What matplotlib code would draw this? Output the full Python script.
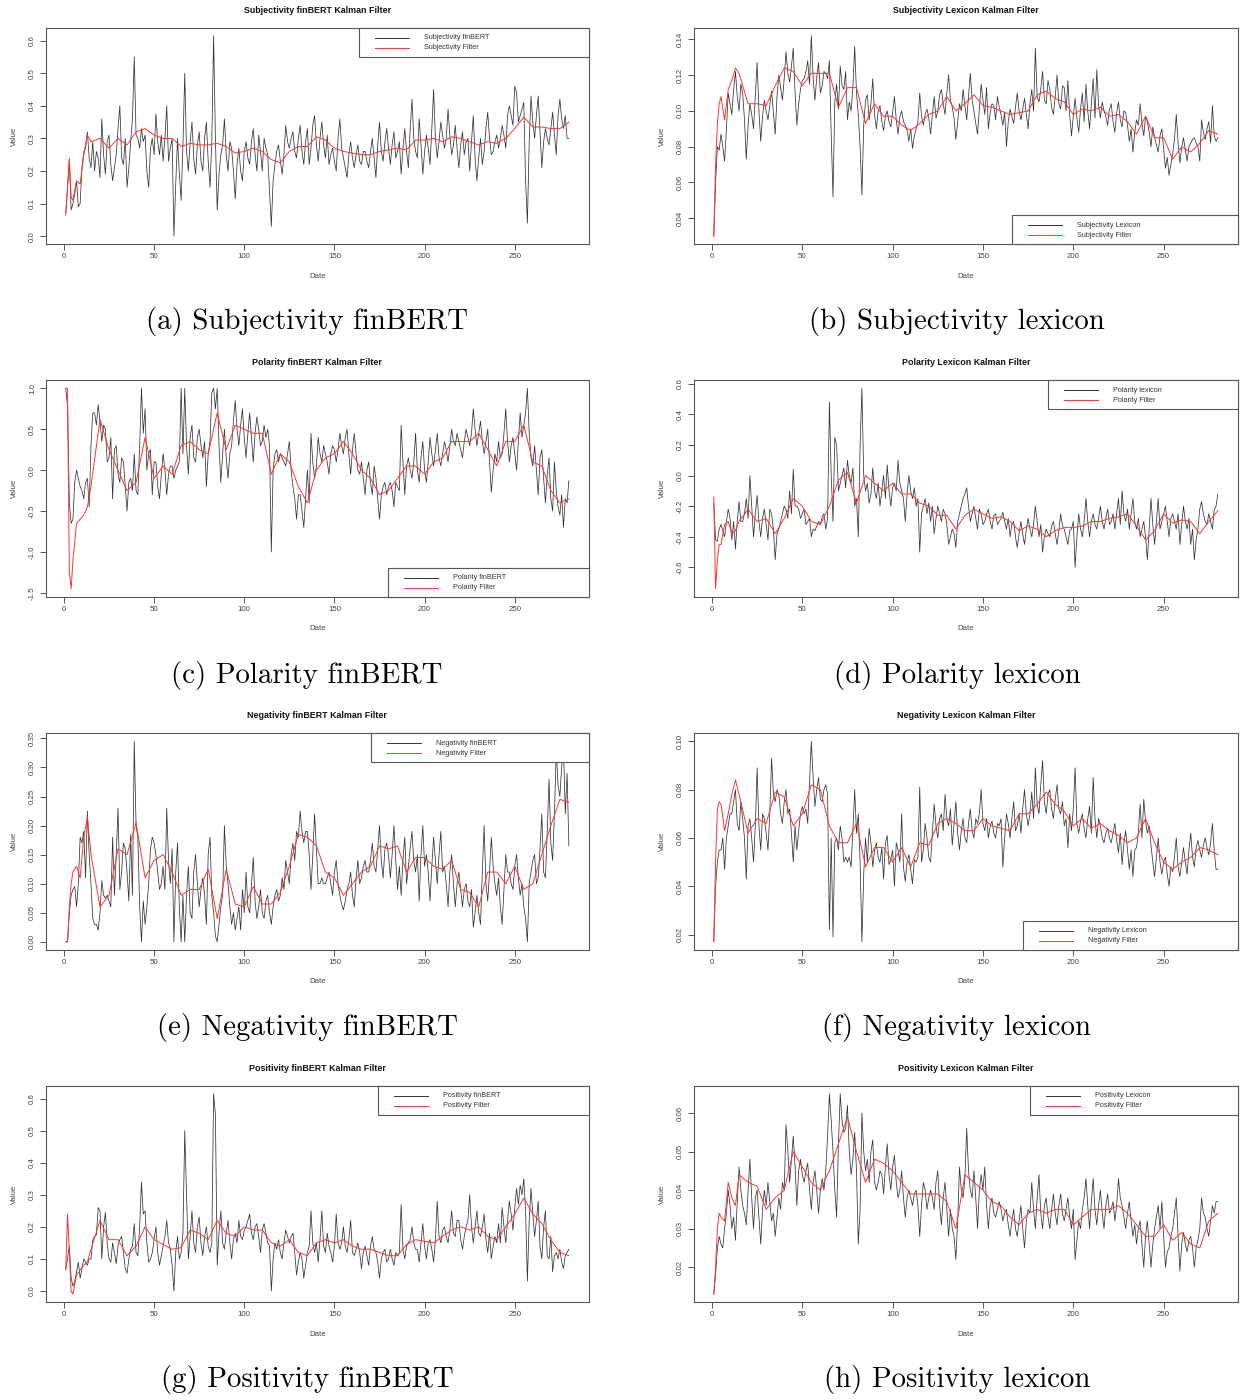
import numpy as np
import matplotlib
matplotlib.use("Agg")
import matplotlib.pyplot as plt
from matplotlib.patches import Rectangle
from matplotlib.lines import Line2D
from matplotlib.ticker import FormatStrFormatter

# ---------------- data ----------------
DAYS = list(range(1, 281))
FDAYS = [1, 2, 3, 4, 5, 7, 9, 11, 13] + list(range(15, 281, 5))
XTICKS = [0, 50, 100, 150, 200, 250]

# raw series: values on odd days (1,3,...,279) and even days (2,4,...,280)
subj_finbert_odd = [
    0.07, 0.23, 0.10, 0.17, 0.10, 0.26, 0.32, 0.21, 0.20, 0.24,
    0.36, 0.19, 0.31, 0.17, 0.25, 0.40, 0.22, 0.15, 0.29, 0.55,
    0.30, 0.33, 0.31, 0.15, 0.30, 0.375, 0.25, 0.23, 0.40, 0.27,
    0.00, 0.30, 0.11, 0.50, 0.20, 0.35, 0.19, 0.32, 0.20, 0.35,
    0.15, 0.615, 0.08, 0.25, 0.36, 0.20, 0.27, 0.115, 0.27, 0.17,
    0.29, 0.22, 0.33, 0.20, 0.26, 0.30, 0.25, 0.03, 0.22, 0.28,
    0.19, 0.34, 0.27, 0.32, 0.24, 0.34, 0.22, 0.33, 0.27, 0.37,
    0.23, 0.35, 0.24, 0.22, 0.27, 0.20, 0.36, 0.24, 0.18, 0.29,
    0.21, 0.28, 0.22, 0.26, 0.21, 0.30, 0.18, 0.35, 0.23, 0.33,
    0.22, 0.32, 0.26, 0.19, 0.33, 0.21, 0.42, 0.26, 0.36, 0.19,
    0.31, 0.22, 0.45, 0.24, 0.35, 0.27, 0.39, 0.25, 0.34, 0.21,
    0.32, 0.29, 0.20, 0.37, 0.17, 0.30, 0.26, 0.38, 0.25, 0.29,
    0.27, 0.34, 0.27, 0.40, 0.34, 0.44, 0.37, 0.41, 0.04, 0.43,
    0.30, 0.43, 0.21, 0.33, 0.28, 0.38, 0.25, 0.42, 0.33, 0.30]
subj_finbert_even = [
    0.15, 0.08, 0.13, 0.09, 0.21, 0.27, 0.24, 0.29, 0.26, 0.18,
    0.25, 0.29, 0.22, 0.21, 0.33, 0.24, 0.30, 0.21, 0.36, 0.31,
    0.27, 0.29, 0.20, 0.27, 0.25, 0.29, 0.31, 0.30, 0.23, 0.30,
    0.16, 0.19, 0.28, 0.26, 0.29, 0.24, 0.28, 0.23, 0.30, 0.23,
    0.29, 0.30, 0.19, 0.28, 0.25, 0.29, 0.20, 0.22, 0.20, 0.26,
    0.24, 0.29, 0.25, 0.31, 0.20, 0.27, 0.14, 0.17, 0.26, 0.23,
    0.25, 0.29, 0.30, 0.26, 0.30, 0.26, 0.29, 0.22, 0.34, 0.28,
    0.30, 0.28, 0.31, 0.25, 0.23, 0.30, 0.27, 0.21, 0.25, 0.24,
    0.25, 0.23, 0.26, 0.23, 0.26, 0.24, 0.28, 0.26, 0.29, 0.27,
    0.28, 0.24, 0.29, 0.27, 0.26, 0.33, 0.30, 0.24, 0.28, 0.26,
    0.27, 0.33, 0.30, 0.29, 0.31, 0.30, 0.31, 0.28, 0.27, 0.28,
    0.25, 0.30, 0.29, 0.24, 0.24, 0.22, 0.33, 0.30, 0.26, 0.31,
    0.30, 0.31, 0.37, 0.37, 0.46, 0.35, 0.39, 0.17, 0.29, 0.35,
    0.37, 0.32, 0.29, 0.30, 0.33, 0.31, 0.37, 0.36, 0.37, 0.30]
subj_finbert_filter = [
    0.065, 0.15, 0.24, 0.12, 0.11, 0.17, 0.16, 0.25, 0.31,
    0.29, 0.30, 0.27, 0.30, 0.28, 0.32, 0.33, 0.31, 0.30, 0.30,
    0.275, 0.285, 0.28, 0.28, 0.285, 0.275, 0.255, 0.26, 0.27, 0.26,
    0.235, 0.225, 0.26, 0.275, 0.275, 0.305, 0.295, 0.27, 0.26, 0.255,
    0.25, 0.25, 0.26, 0.265, 0.27, 0.265, 0.295, 0.295, 0.30, 0.29,
    0.305, 0.30, 0.29, 0.28, 0.29, 0.285, 0.30, 0.33, 0.365, 0.335,
    0.335, 0.33, 0.33, 0.35]

subj_lexicon_odd = [
    0.030, 0.080, 0.087, 0.072, 0.110, 0.098, 0.122, 0.100, 0.110, 0.073,
    0.104, 0.090, 0.127, 0.083, 0.106, 0.095, 0.111, 0.087, 0.120, 0.106,
    0.133, 0.116, 0.135, 0.092, 0.112, 0.118, 0.128, 0.142, 0.106, 0.127,
    0.114, 0.121, 0.128, 0.052, 0.115, 0.125, 0.112, 0.095, 0.100, 0.136,
    0.098, 0.053, 0.106, 0.095, 0.118, 0.090, 0.103, 0.089, 0.100, 0.091,
    0.108, 0.087, 0.100, 0.092, 0.083, 0.079, 0.090, 0.110, 0.092, 0.101,
    0.087, 0.108, 0.100, 0.112, 0.098, 0.120, 0.102, 0.084, 0.104, 0.112,
    0.095, 0.121, 0.100, 0.087, 0.115, 0.098, 0.090, 0.104, 0.095, 0.102,
    0.092, 0.080, 0.101, 0.093, 0.110, 0.095, 0.107, 0.090, 0.112, 0.135,
    0.105, 0.122, 0.104, 0.112, 0.098, 0.120, 0.101, 0.113, 0.117, 0.086,
    0.107, 0.088, 0.110, 0.115, 0.090, 0.118, 0.123, 0.096, 0.100, 0.092,
    0.104, 0.088, 0.105, 0.091, 0.099, 0.083, 0.077, 0.095, 0.104, 0.086,
    0.094, 0.080, 0.085, 0.077, 0.090, 0.068, 0.064, 0.076, 0.098, 0.071,
    0.085, 0.072, 0.082, 0.085, 0.080, 0.095, 0.084, 0.094, 0.103, 0.083]
subj_lexicon_even = [
    0.060, 0.078, 0.080, 0.090, 0.104, 0.112, 0.108, 0.115, 0.095, 0.092,
    0.098, 0.108, 0.100, 0.097, 0.100, 0.103, 0.099, 0.108, 0.113, 0.118,
    0.121, 0.125, 0.110, 0.104, 0.117, 0.122, 0.115, 0.118, 0.119, 0.110,
    0.122, 0.118, 0.087, 0.105, 0.101, 0.114, 0.122, 0.105, 0.113, 0.110,
    0.080, 0.092, 0.109, 0.104, 0.098, 0.100, 0.094, 0.097, 0.094, 0.099,
    0.095, 0.097, 0.094, 0.089, 0.090, 0.086, 0.094, 0.097, 0.098, 0.096,
    0.098, 0.096, 0.109, 0.104, 0.110, 0.106, 0.096, 0.094, 0.100, 0.103,
    0.108, 0.106, 0.093, 0.101, 0.106, 0.113, 0.099, 0.103, 0.108, 0.098,
    0.099, 0.094, 0.097, 0.102, 0.100, 0.101, 0.098, 0.104, 0.100, 0.108,
    0.112, 0.106, 0.117, 0.102, 0.108, 0.104, 0.114, 0.100, 0.098, 0.097,
    0.096, 0.101, 0.094, 0.100, 0.104, 0.096, 0.103, 0.105, 0.097, 0.101,
    0.094, 0.099, 0.095, 0.100, 0.092, 0.090, 0.088, 0.092, 0.093, 0.097,
    0.088, 0.091, 0.081, 0.086, 0.079, 0.074, 0.070, 0.084, 0.082, 0.080,
    0.078, 0.080, 0.084, 0.082, 0.072, 0.088, 0.090, 0.082, 0.086, 0.085]
subj_lexicon_filter = [
    0.030, 0.070, 0.093, 0.104, 0.108, 0.095, 0.112, 0.117, 0.124,
    0.121, 0.104, 0.104, 0.103, 0.114, 0.124, 0.122, 0.114, 0.121, 0.121,
    0.121, 0.102, 0.113, 0.113, 0.093, 0.104, 0.097, 0.097, 0.092, 0.089,
    0.093, 0.098, 0.100, 0.108, 0.100, 0.104, 0.109, 0.103, 0.102, 0.100,
    0.098, 0.099, 0.100, 0.109, 0.111, 0.107, 0.105, 0.098, 0.101, 0.100,
    0.102, 0.097, 0.098, 0.094, 0.087, 0.097, 0.085, 0.085, 0.073, 0.080,
    0.077, 0.082, 0.089, 0.087]

pol_finbert_odd = [
    1.00, -0.40, -0.60, 0.00, -0.20, -0.35, -0.10, 0.30, 0.70, 0.80,
    0.35, 0.50, 0.15, -0.35, 0.30, -0.15, 0.10, -0.50, -0.10, 0.20,
    -0.30, 1.00, 0.75, 0.20, -0.30, 0.10, -0.35, 0.20, -0.30, 0.05,
    -0.10, 0.05, 1.00, 1.00, -0.05, 0.55, 0.10, 0.50, 0.15, -0.20,
    0.35, 1.00, 1.00, -0.15, 0.50, -0.10, 0.30, 0.85, 0.30, 0.75,
    0.15, 0.70, 0.10, 0.65, 0.30, 0.55, 0.50, -1.00, 0.20, 0.10,
    0.15, 0.05, 0.35, -0.20, -0.60, -0.30, -0.70, 0.00, 0.45, -0.10,
    0.40, 0.10, 0.20, -0.05, 0.30, 0.10, 0.45, 0.20, 0.50, -0.05,
    0.45, 0.00, 0.10, -0.30, 0.10, -0.30, -0.10, -0.60, -0.20, -0.30,
    -0.15, -0.45, -0.20, 0.55, -0.30, 0.15, -0.10, 0.45, -0.15, 0.35,
    -0.15, 0.40, 0.05, 0.45, 0.05, 0.35, 0.10, 0.50, 0.30, 0.35,
    0.15, 0.50, 0.30, 0.75, 0.30, 0.60, 0.20, 0.50, -0.27, 0.20,
    0.35, 0.20, 0.75, 0.10, 0.40, 0.00, 0.70, 0.55, 1.00, 0.15,
    0.30, -0.30, 0.25, -0.40, 0.15, -0.50, -0.25, -0.55, -0.70, -0.40]
pol_finbert_even = [
    0.78, -0.65, -0.15, -0.10, -0.25, -0.15, -0.45, 0.70, 0.55, 0.60,
    0.55, 0.10, 0.40, 0.25, -0.05, 0.15, -0.20, -0.15, -0.25, -0.25,
    0.30, 0.45, 0.00, 0.25, 0.10, -0.20, -0.05, 0.00, -0.05, 0.05,
    0.00, 0.10, 0.20, 0.30, 0.40, 0.15, 0.40, 0.30, 0.35, 0.20,
    0.95, 0.75, 0.30, 0.20, 0.15, 0.20, 0.60, 0.50, 0.55, 0.40,
    0.45, 0.40, 0.45, 0.50, 0.35, 0.40, 0.30, 0.00, 0.25, 0.20,
    0.10, 0.20, 0.00, -0.35, -0.30, -0.50, -0.35, -0.40, 0.10, 0.05,
    0.20, 0.30, 0.10, 0.20, 0.25, 0.25, 0.30, 0.40, 0.20, 0.25,
    0.20, -0.05, -0.10, 0.00, -0.15, 0.05, -0.35, -0.30, -0.15, -0.20,
    -0.25, -0.15, -0.25, 0.10, 0.05, 0.00, 0.10, 0.00, 0.15, 0.00,
    0.10, 0.20, 0.25, 0.15, 0.20, 0.25, 0.30, 0.35, 0.45, 0.25,
    0.35, 0.40, 0.45, 0.50, 0.45, 0.35, 0.35, 0.10, 0.00, 0.10,
    0.15, 0.45, 0.35, 0.30, 0.20, 0.35, 0.40, 0.70, 0.45, 0.05,
    0.00, 0.15, -0.10, -0.05, -0.35, 0.10, -0.45, -0.30, -0.35, -0.13]
pol_finbert_filter = [
    1.00, 1.00, -1.25, -1.45, -1.10, -0.65, -0.60, -0.55, -0.45,
    -0.20, 0.62, 0.25, 0.00, -0.25, -0.15, 0.40, -0.10, 0.05, -0.05,
    0.30, 0.35, 0.25, 0.20, 0.70, 0.25, 0.55, 0.50, 0.45, 0.45,
    -0.05, 0.20, 0.10, -0.20, -0.40, 0.00, 0.15, 0.20, 0.35, 0.20,
    0.00, -0.10, -0.30, -0.25, -0.10, 0.05, 0.05, -0.05, 0.10, 0.15,
    0.35, 0.35, 0.35, 0.45, 0.25, 0.05, 0.35, 0.35, 0.55, 0.10,
    0.05, -0.25, -0.40, -0.35]

pol_lexicon_odd = [
    -0.18, -0.43, -0.32, -0.40, -0.22, -0.42, -0.48, -0.17, -0.30, -0.15,
    0.00, -0.40, -0.13, -0.40, -0.22, -0.42, -0.25, -0.55, -0.35, -0.25,
    -0.22, -0.10, 0.04, -0.20, -0.28, -0.22, -0.30, -0.40, -0.36, -0.30,
    -0.27, -0.35, 0.48, -0.30, 0.20, -0.05, 0.05, 0.10, -0.05, -0.20,
    -0.40, 0.57, -0.10, -0.18, 0.05, -0.15, -0.20, 0.00, 0.07, -0.20,
    -0.05, 0.10, -0.10, -0.30, 0.00, -0.15, -0.20, -0.50, -0.20, -0.25,
    -0.30, -0.38, -0.20, -0.30, -0.25, -0.45, -0.35, -0.47, -0.25, -0.15,
    -0.08, -0.30, -0.20, -0.35, -0.25, -0.30, -0.22, -0.35, -0.25, -0.30,
    -0.24, -0.35, -0.40, -0.30, -0.47, -0.30, -0.45, -0.28, -0.40, -0.20,
    -0.40, -0.50, -0.35, -0.40, -0.30, -0.45, -0.25, -0.35, -0.45, -0.35,
    -0.60, -0.25, -0.40, -0.15, -0.40, -0.25, -0.35, -0.20, -0.35, -0.22,
    -0.30, -0.35, -0.15, -0.10, -0.30, -0.35, -0.15, -0.35, -0.40, -0.30,
    -0.55, -0.15, -0.45, -0.15, -0.30, -0.20, -0.40, -0.25, -0.35, -0.45,
    -0.20, -0.35, -0.45, -0.55, -0.35, -0.17, -0.30, -0.25, -0.35, -0.20]
pol_lexicon_even = [
    -0.42, -0.35, -0.36, -0.30, -0.28, -0.30, -0.30, -0.30, -0.25, -0.28,
    -0.20, -0.25, -0.30, -0.28, -0.32, -0.22, -0.35, -0.38, -0.30, -0.20,
    -0.28, -0.25, -0.20, -0.22, -0.25, -0.32, -0.28, -0.35, -0.33, -0.32,
    -0.25, -0.28, 0.00, 0.25, -0.10, 0.00, -0.08, 0.00, 0.05, -0.15,
    0.20, 0.00, -0.05, -0.12, -0.10, -0.05, -0.10, -0.15, -0.10, -0.08,
    -0.10, -0.05, -0.15, -0.12, -0.10, -0.08, -0.15, -0.25, -0.15, -0.18,
    -0.20, -0.28, -0.25, -0.22, -0.32, -0.40, -0.38, -0.30, -0.20, -0.12,
    -0.20, -0.25, -0.28, -0.22, -0.32, -0.25, -0.30, -0.26, -0.32, -0.28,
    -0.30, -0.28, -0.32, -0.40, -0.38, -0.38, -0.35, -0.35, -0.32, -0.30,
    -0.32, -0.40, -0.38, -0.33, -0.38, -0.36, -0.33, -0.40, -0.36, -0.30,
    -0.40, -0.35, -0.30, -0.30, -0.30, -0.32, -0.28, -0.30, -0.28, -0.32,
    -0.25, -0.25, -0.32, -0.25, -0.22, -0.25, -0.30, -0.28, -0.35, -0.40,
    -0.35, -0.32, -0.30, -0.35, -0.25, -0.30, -0.28, -0.30, -0.25, -0.32,
    -0.30, -0.28, -0.35, -0.42, -0.22, -0.25, -0.32, -0.30, -0.22, -0.12]
pol_lexicon_filter = [
    -0.14, -0.74, -0.55, -0.45, -0.45, -0.32, -0.30, -0.38, -0.36,
    -0.30, -0.22, -0.30, -0.28, -0.38, -0.28, -0.15, -0.20, -0.30, -0.32,
    -0.20, -0.03, 0.02, -0.18, 0.00, -0.05, -0.10, -0.05, -0.12, -0.12,
    -0.18, -0.20, -0.26, -0.26, -0.35, -0.26, -0.22, -0.25, -0.28, -0.27,
    -0.30, -0.36, -0.33, -0.35, -0.40, -0.36, -0.34, -0.34, -0.33, -0.30,
    -0.30, -0.28, -0.27, -0.25, -0.33, -0.42, -0.36, -0.25, -0.31, -0.29,
    -0.30, -0.38, -0.30, -0.23]

neg_finbert_odd = [
    0.00, 0.05, 0.09, 0.06, 0.18, 0.19, 0.225, 0.10, 0.03, 0.02,
    0.105, 0.075, 0.07, 0.18, 0.15, 0.09, 0.17, 0.12, 0.185, 0.345,
    0.18, 0.00, 0.03, 0.10, 0.18, 0.15, 0.09, 0.13, 0.23, 0.10,
    0.00, 0.17, 0.00, 0.00, 0.13, 0.04, 0.15, 0.06, 0.11, 0.03,
    0.18, 0.05, 0.00, 0.06, 0.20, 0.10, 0.03, 0.02, 0.06, 0.09,
    0.12, 0.05, 0.145, 0.04, 0.09, 0.04, 0.08, 0.03, 0.08, 0.07,
    0.11, 0.14, 0.10, 0.17, 0.19, 0.225, 0.17, 0.19, 0.09, 0.22,
    0.10, 0.11, 0.10, 0.12, 0.08, 0.14, 0.08, 0.055, 0.09, 0.12,
    0.06, 0.14, 0.11, 0.14, 0.12, 0.17, 0.12, 0.20, 0.11, 0.17,
    0.11, 0.20, 0.09, 0.08, 0.18, 0.13, 0.19, 0.12, 0.07, 0.20,
    0.15, 0.07, 0.18, 0.10, 0.19, 0.13, 0.06, 0.15, 0.06, 0.12,
    0.06, 0.10, 0.06, 0.025, 0.08, 0.03, 0.20, 0.07, 0.18, 0.10,
    0.11, 0.03, 0.15, 0.12, 0.09, 0.15, 0.08, 0.06, 0.00, 0.12,
    0.15, 0.11, 0.22, 0.11, 0.28, 0.14, 0.33, 0.25, 0.335, 0.29]
neg_finbert_even = [
    0.00, 0.08, 0.095, 0.10, 0.17, 0.11, 0.15, 0.04, 0.03, 0.05,
    0.08, 0.08, 0.06, 0.08, 0.23, 0.12, 0.16, 0.07, 0.08, 0.20,
    0.06, 0.07, 0.06, 0.16, 0.17, 0.12, 0.10, 0.09, 0.14, 0.16,
    0.12, 0.06, 0.08, 0.08, 0.05, 0.12, 0.10, 0.09, 0.08, 0.15,
    0.08, 0.01, 0.03, 0.08, 0.13, 0.06, 0.05, 0.04, 0.02, 0.05,
    0.06, 0.10, 0.07, 0.06, 0.05, 0.07, 0.05, 0.06, 0.09, 0.08,
    0.09, 0.12, 0.15, 0.14, 0.18, 0.19, 0.19, 0.15, 0.15, 0.16,
    0.10, 0.10, 0.11, 0.10, 0.12, 0.10, 0.065, 0.07, 0.10, 0.08,
    0.11, 0.10, 0.13, 0.12, 0.14, 0.13, 0.16, 0.14, 0.16, 0.15,
    0.15, 0.14, 0.13, 0.14, 0.10, 0.16, 0.14, 0.15, 0.15, 0.13,
    0.12, 0.13, 0.14, 0.15, 0.12, 0.10, 0.12, 0.10, 0.10, 0.09,
    0.09, 0.07, 0.09, 0.05, 0.05, 0.12, 0.10, 0.12, 0.13, 0.08,
    0.06, 0.09, 0.12, 0.10, 0.13, 0.11, 0.10, 0.04, 0.10, 0.14,
    0.10, 0.16, 0.12, 0.19, 0.17, 0.22, 0.27, 0.30, 0.22, 0.165]
neg_finbert_filter = [
    0.00, 0.00, 0.06, 0.10, 0.12, 0.13, 0.11, 0.18, 0.215,
    0.15, 0.06, 0.08, 0.16, 0.15, 0.205, 0.11, 0.14, 0.15, 0.12,
    0.08, 0.09, 0.09, 0.125, 0.04, 0.125, 0.065, 0.06, 0.095, 0.065,
    0.065, 0.085, 0.13, 0.185, 0.18, 0.165, 0.12, 0.11, 0.08, 0.10,
    0.12, 0.13, 0.165, 0.16, 0.165, 0.12, 0.145, 0.145, 0.13, 0.125,
    0.14, 0.09, 0.085, 0.06, 0.12, 0.12, 0.10, 0.13, 0.09, 0.10,
    0.15, 0.20, 0.245, 0.24]

neg_lexicon_odd = [
    0.017, 0.050, 0.055, 0.047, 0.065, 0.070, 0.080, 0.063, 0.068, 0.043,
    0.068, 0.050, 0.089, 0.055, 0.068, 0.055, 0.093, 0.075, 0.078, 0.066,
    0.080, 0.072, 0.050, 0.055, 0.070, 0.070, 0.066, 0.100, 0.073, 0.085,
    0.075, 0.082, 0.022, 0.019, 0.060, 0.065, 0.050, 0.050, 0.048, 0.080,
    0.070, 0.017, 0.060, 0.064, 0.048, 0.058, 0.050, 0.043, 0.061, 0.051,
    0.040, 0.055, 0.070, 0.042, 0.053, 0.041, 0.050, 0.081, 0.055, 0.060,
    0.050, 0.074, 0.060, 0.070, 0.078, 0.065, 0.057, 0.075, 0.055, 0.068,
    0.058, 0.072, 0.060, 0.066, 0.080, 0.063, 0.060, 0.067, 0.060, 0.065,
    0.048, 0.070, 0.060, 0.075, 0.065, 0.062, 0.080, 0.065, 0.079, 0.089,
    0.070, 0.092, 0.070, 0.080, 0.068, 0.082, 0.070, 0.065, 0.056, 0.063,
    0.089, 0.062, 0.070, 0.060, 0.073, 0.085, 0.060, 0.065, 0.058, 0.064,
    0.058, 0.066, 0.054, 0.049, 0.063, 0.047, 0.044, 0.056, 0.074, 0.076,
    0.062, 0.057, 0.044, 0.060, 0.045, 0.052, 0.040, 0.046, 0.060, 0.044,
    0.056, 0.045, 0.062, 0.048, 0.059, 0.052, 0.060, 0.053, 0.066, 0.047]
neg_lexicon_even = [
    0.040, 0.055, 0.060, 0.060, 0.070, 0.075, 0.066, 0.075, 0.060, 0.065,
    0.060, 0.065, 0.065, 0.070, 0.062, 0.070, 0.078, 0.080, 0.070, 0.075,
    0.070, 0.062, 0.065, 0.063, 0.073, 0.072, 0.083, 0.085, 0.080, 0.076,
    0.080, 0.078, 0.060, 0.058, 0.055, 0.060, 0.052, 0.052, 0.063, 0.062,
    0.050, 0.045, 0.050, 0.058, 0.055, 0.052, 0.056, 0.058, 0.049, 0.055,
    0.058, 0.050, 0.048, 0.050, 0.047, 0.051, 0.052, 0.050, 0.066, 0.052,
    0.062, 0.065, 0.068, 0.063, 0.068, 0.072, 0.066, 0.062, 0.063, 0.060,
    0.066, 0.063, 0.068, 0.070, 0.066, 0.068, 0.065, 0.062, 0.066, 0.068,
    0.060, 0.066, 0.068, 0.063, 0.070, 0.072, 0.070, 0.070, 0.068, 0.074,
    0.082, 0.075, 0.078, 0.072, 0.076, 0.072, 0.075, 0.068, 0.070, 0.072,
    0.066, 0.067, 0.064, 0.068, 0.062, 0.068, 0.068, 0.060, 0.062, 0.060,
    0.062, 0.059, 0.062, 0.058, 0.055, 0.055, 0.055, 0.062, 0.060, 0.067,
    0.065, 0.050, 0.052, 0.050, 0.050, 0.045, 0.048, 0.052, 0.048, 0.050,
    0.050, 0.055, 0.052, 0.056, 0.055, 0.057, 0.056, 0.058, 0.055, 0.047]
neg_lexicon_filter = [
    0.017, 0.050, 0.072, 0.075, 0.074, 0.063, 0.070, 0.078, 0.084,
    0.078, 0.062, 0.068, 0.066, 0.079, 0.077, 0.065, 0.070, 0.082, 0.080,
    0.065, 0.058, 0.058, 0.066, 0.048, 0.056, 0.056, 0.050, 0.056, 0.048,
    0.058, 0.057, 0.066, 0.068, 0.066, 0.063, 0.063, 0.068, 0.065, 0.064,
    0.063, 0.070, 0.070, 0.074, 0.079, 0.074, 0.071, 0.065, 0.068, 0.064,
    0.066, 0.063, 0.061, 0.058, 0.060, 0.068, 0.058, 0.050, 0.047, 0.050,
    0.052, 0.056, 0.055, 0.053]

pos_finbert_odd = [
    0.07, 0.14, 0.015, 0.06, 0.04, 0.10, 0.08, 0.10, 0.17, 0.26,
    0.10, 0.245, 0.10, 0.15, 0.085, 0.16, 0.12, 0.055, 0.13, 0.21,
    0.11, 0.34, 0.25, 0.09, 0.12, 0.20, 0.08, 0.14, 0.22, 0.13,
    0.00, 0.17, 0.12, 0.50, 0.10, 0.25, 0.12, 0.23, 0.11, 0.20,
    0.12, 0.615, 0.08, 0.25, 0.13, 0.22, 0.10, 0.18, 0.22, 0.16,
    0.20, 0.24, 0.16, 0.21, 0.12, 0.21, 0.15, 0.00, 0.15, 0.16,
    0.10, 0.19, 0.15, 0.18, 0.05, 0.12, 0.04, 0.12, 0.25, 0.12,
    0.09, 0.25, 0.12, 0.14, 0.09, 0.24, 0.13, 0.20, 0.12, 0.22,
    0.11, 0.15, 0.07, 0.14, 0.08, 0.17, 0.12, 0.04, 0.12, 0.09,
    0.13, 0.08, 0.11, 0.27, 0.10, 0.15, 0.20, 0.13, 0.09, 0.21,
    0.10, 0.16, 0.09, 0.28, 0.15, 0.20, 0.15, 0.25, 0.17, 0.22,
    0.13, 0.20, 0.30, 0.15, 0.25, 0.17, 0.24, 0.12, 0.10, 0.17,
    0.21, 0.26, 0.15, 0.28, 0.19, 0.32, 0.33, 0.35, 0.03, 0.32,
    0.17, 0.28, 0.10, 0.25, 0.10, 0.06, 0.12, 0.13, 0.07, 0.12]
pos_finbert_even = [
    0.10, 0.04, 0.03, 0.09, 0.07, 0.09, 0.10, 0.16, 0.175, 0.25,
    0.20, 0.15, 0.09, 0.12, 0.14, 0.17, 0.07, 0.10, 0.14, 0.12,
    0.20, 0.24, 0.15, 0.10, 0.16, 0.12, 0.11, 0.17, 0.15, 0.08,
    0.12, 0.10, 0.18, 0.30, 0.17, 0.15, 0.20, 0.15, 0.17, 0.14,
    0.15, 0.55, 0.18, 0.15, 0.18, 0.15, 0.16, 0.15, 0.17, 0.19,
    0.22, 0.18, 0.20, 0.17, 0.19, 0.18, 0.14, 0.10, 0.13, 0.12,
    0.15, 0.17, 0.17, 0.12, 0.09, 0.10, 0.08, 0.14, 0.15, 0.15,
    0.16, 0.14, 0.18, 0.12, 0.14, 0.15, 0.15, 0.14, 0.16, 0.12,
    0.13, 0.12, 0.12, 0.11, 0.14, 0.13, 0.09, 0.10, 0.13, 0.10,
    0.10, 0.12, 0.12, 0.13, 0.14, 0.16, 0.15, 0.13, 0.15, 0.14,
    0.15, 0.13, 0.16, 0.17, 0.19, 0.17, 0.19, 0.18, 0.22, 0.16,
    0.17, 0.22, 0.20, 0.20, 0.18, 0.20, 0.16, 0.18, 0.14, 0.15,
    0.15, 0.20, 0.22, 0.24, 0.26, 0.27, 0.30, 0.25, 0.22, 0.24,
    0.22, 0.14, 0.20, 0.11, 0.17, 0.11, 0.10, 0.09, 0.11, 0.13]
pos_finbert_filter = [
    0.065, 0.24, 0.12, 0.00, -0.01, 0.05, 0.065, 0.08, 0.09,
    0.13, 0.22, 0.16, 0.16, 0.11, 0.14, 0.20, 0.16, 0.145, 0.13,
    0.135, 0.19, 0.18, 0.16, 0.22, 0.18, 0.17, 0.20, 0.19, 0.19,
    0.15, 0.14, 0.16, 0.12, 0.11, 0.15, 0.16, 0.15, 0.16, 0.14,
    0.13, 0.13, 0.12, 0.11, 0.11, 0.145, 0.16, 0.155, 0.15, 0.17,
    0.19, 0.20, 0.19, 0.20, 0.17, 0.16, 0.20, 0.24, 0.29, 0.24,
    0.21, 0.16, 0.12, 0.11]

pos_lexicon_odd = [
    0.013, 0.025, 0.026, 0.030, 0.040, 0.030, 0.027, 0.046, 0.036, 0.031,
    0.048, 0.030, 0.040, 0.026, 0.040, 0.042, 0.032, 0.028, 0.038, 0.042,
    0.057, 0.042, 0.054, 0.036, 0.048, 0.042, 0.047, 0.035, 0.045, 0.034,
    0.043, 0.045, 0.065, 0.050, 0.033, 0.065, 0.055, 0.062, 0.044, 0.055,
    0.026, 0.060, 0.045, 0.042, 0.053, 0.040, 0.045, 0.039, 0.052, 0.040,
    0.049, 0.038, 0.045, 0.033, 0.040, 0.036, 0.040, 0.028, 0.042, 0.035,
    0.040, 0.035, 0.045, 0.031, 0.042, 0.028, 0.030, 0.022, 0.046, 0.038,
    0.056, 0.040, 0.045, 0.030, 0.044, 0.046, 0.030, 0.038, 0.033, 0.037,
    0.032, 0.035, 0.028, 0.035, 0.028, 0.036, 0.025, 0.035, 0.042, 0.030,
    0.044, 0.030, 0.038, 0.030, 0.039, 0.031, 0.039, 0.032, 0.038, 0.030,
    0.022, 0.032, 0.035, 0.043, 0.030, 0.043, 0.031, 0.040, 0.030, 0.039,
    0.035, 0.032, 0.043, 0.036, 0.030, 0.037, 0.028, 0.026, 0.032, 0.020,
    0.032, 0.020, 0.030, 0.036, 0.037, 0.020, 0.025, 0.030, 0.038, 0.019,
    0.029, 0.024, 0.028, 0.020, 0.027, 0.038, 0.033, 0.028, 0.036, 0.037]
pos_lexicon_even = [
    0.018, 0.028, 0.025, 0.034, 0.036, 0.033, 0.037, 0.040, 0.034, 0.040,
    0.038, 0.038, 0.033, 0.035, 0.036, 0.037, 0.034, 0.033, 0.035, 0.040,
    0.050, 0.048, 0.046, 0.045, 0.044, 0.045, 0.040, 0.042, 0.040, 0.040,
    0.040, 0.054, 0.058, 0.040, 0.052, 0.058, 0.056, 0.050, 0.048, 0.045,
    0.035, 0.050, 0.048, 0.050, 0.042, 0.042, 0.044, 0.046, 0.044, 0.046,
    0.042, 0.040, 0.038, 0.038, 0.038, 0.039, 0.036, 0.036, 0.040, 0.038,
    0.038, 0.042, 0.036, 0.038, 0.035, 0.035, 0.028, 0.032, 0.040, 0.043,
    0.045, 0.038, 0.038, 0.040, 0.040, 0.036, 0.036, 0.034, 0.035, 0.035,
    0.034, 0.031, 0.032, 0.030, 0.032, 0.030, 0.032, 0.034, 0.035, 0.038,
    0.034, 0.036, 0.033, 0.035, 0.034, 0.036, 0.034, 0.035, 0.033, 0.035,
    0.027, 0.030, 0.038, 0.036, 0.037, 0.035, 0.036, 0.034, 0.036, 0.034,
    0.037, 0.036, 0.038, 0.033, 0.034, 0.032, 0.031, 0.030, 0.026, 0.028,
    0.026, 0.026, 0.033, 0.030, 0.028, 0.024, 0.028, 0.034, 0.028, 0.026,
    0.026, 0.027, 0.025, 0.025, 0.030, 0.034, 0.030, 0.032, 0.034, 0.037]
pos_lexicon_filter = [
    0.013, 0.020, 0.030, 0.034, 0.033, 0.032, 0.042, 0.038, 0.036,
    0.044, 0.042, 0.041, 0.035, 0.038, 0.040, 0.050, 0.046, 0.042, 0.040,
    0.045, 0.052, 0.059, 0.050, 0.042, 0.048, 0.047, 0.045, 0.042, 0.039,
    0.039, 0.039, 0.039, 0.037, 0.030, 0.044, 0.042, 0.040, 0.037, 0.036,
    0.033, 0.031, 0.034, 0.035, 0.034, 0.035, 0.035, 0.031, 0.033, 0.035,
    0.035, 0.035, 0.036, 0.034, 0.031, 0.028, 0.028, 0.031, 0.027, 0.029,
    0.026, 0.025, 0.032, 0.034]

titles = ["Subjectivity finBERT Kalman Filter", "Subjectivity Lexicon Kalman Filter",
          "Polarity finBERT Kalman Filter", "Polarity Lexicon Kalman Filter",
          "Negativity finBERT Kalman Filter", "Negativity Lexicon Kalman Filter",
          "Positivity finBERT Kalman Filter", "Positivity Lexicon Kalman Filter"]
legend_labels = [("Subjectivity finBERT", "Subjectivity Filter"),
                 ("Subjectivity Lexicon", "Subjectivity Filter"),
                 ("Polarity finBERT", "Polarity Filter"),
                 ("Polarity lexicon", "Polarity Filter"),
                 ("Negativity finBERT", "Negativity Filter"),
                 ("Negativity Lexicon", "Negativity Filter"),
                 ("Positivity finBERT", "Positivity Filter"),
                 ("Positivity Lexicon", "Positivity Filter")]
captions = ["(a) Subjectivity finBERT", "(b) Subjectivity lexicon",
            "(c) Polarity finBERT", "(d) Polarity lexicon",
            "(e) Negativity finBERT", "(f) Negativity lexicon",
            "(g) Positivity finBERT", "(h) Positivity lexicon"]
yticks = [[0.0, 0.1, 0.2, 0.3, 0.4, 0.5, 0.6],
          [0.04, 0.06, 0.08, 0.10, 0.12, 0.14],
          [-1.5, -1.0, -0.5, 0.0, 0.5, 1.0],
          [-0.6, -0.4, -0.2, 0.0, 0.2, 0.4, 0.6],
          [0.00, 0.05, 0.10, 0.15, 0.20, 0.25, 0.30, 0.35],
          [0.02, 0.04, 0.06, 0.08, 0.10],
          [0.0, 0.1, 0.2, 0.3, 0.4, 0.5, 0.6],
          [0.02, 0.03, 0.04, 0.05, 0.06]]
ytick_fmt = ["%.1f", "%.2f", "%.1f", "%.1f", "%.2f", "%.2f", "%.1f", "%.2f"]

raw_odd = [subj_finbert_odd, subj_lexicon_odd, pol_finbert_odd, pol_lexicon_odd,
           neg_finbert_odd, neg_lexicon_odd, pos_finbert_odd, pos_lexicon_odd]
raw_even = [subj_finbert_even, subj_lexicon_even, pol_finbert_even, pol_lexicon_even,
            neg_finbert_even, neg_lexicon_even, pos_finbert_even, pos_lexicon_even]
filter_series = [subj_finbert_filter, subj_lexicon_filter, pol_finbert_filter,
                 pol_lexicon_filter, neg_finbert_filter, neg_lexicon_filter,
                 pos_finbert_filter, pos_lexicon_filter]

# ---------------- layout (pixels) ----------------
W, H = 1241, 1400
fig = plt.figure(figsize=(W / 100, H / 100), dpi=100)
FONT = "Liberation Sans"

col_x = [(45.6, 589.0), (693.6, 1238.0)]
row_top = [27.7, 380.3, 733.3, 1085.7]
AX_H = 216.5
legend_left = [313.4, 318.4, 342.4, 354.4, 325.4, 329.4, 332.4, 336.4]
legend_top = [True, False, False, True, True, False, True, True]
caption_x = [307, 957]
caption_y = [322, 675, 1027, 1380]

RAW_COL = "#333333"
FIL_COL = "#ff3333"
BOX_COL = "#555555"

for i in range(8):
    r, c = divmod(i, 2)
    x0, x1 = col_x[c]
    top = row_top[r]
    ax = fig.add_axes([x0 / W, 1 - (top + AX_H) / H, (x1 - x0) / W, AX_H / H])
    wpx, hpx = x1 - x0, AX_H

    # interleave odd-day and even-day readings into the daily series
    raw = np.column_stack([raw_odd[i], raw_even[i]]).ravel()
    ax.plot(DAYS[:len(raw)], raw, color=RAW_COL, lw=0.55, zorder=2)
    ax.plot(FDAYS, filter_series[i], color=FIL_COL, lw=0.7, zorder=3)
    ax.margins(x=0.04, y=0.04)

    ax.set_xticks(XTICKS)
    ax.set_yticks(yticks[i])
    ax.yaxis.set_major_formatter(FormatStrFormatter(ytick_fmt[i]))
    ax.tick_params(direction="out", length=4.3, width=0.7, color=BOX_COL,
                   labelsize=5.7, labelcolor="#444444")
    ax.tick_params(axis="x", pad=2.3)
    ax.tick_params(axis="y", pad=2.6, labelrotation=90)
    for lab in ax.get_yticklabels():
        lab.set_va("center")
        lab.set_fontfamily(FONT)
    for lab in ax.get_xticklabels():
        lab.set_fontfamily(FONT)
    for s in ax.spines.values():
        s.set_color(BOX_COL)
        s.set_linewidth(0.8)

    ax.annotate(titles[i], xy=(0.5, 1), xycoords="axes fraction",
                xytext=(0, 17.6 * 0.72), textcoords="offset points",
                ha="center", va="center", fontsize=6.4, fontweight="bold",
                fontfamily=FONT, color="#111111")
    ax.annotate("Date", xy=(0.5, 0), xycoords="axes fraction",
                xytext=(0, -32 * 0.72), textcoords="offset points",
                ha="center", va="center", fontsize=5.6, fontfamily=FONT, color="#444444")
    ax.annotate("Value", xy=(0, 0.5), xycoords="axes fraction",
                xytext=(-31 * 0.72, 0), textcoords="offset points",
                ha="center", va="center", rotation=90, fontsize=5.6,
                fontfamily=FONT, color="#444444")

    # legend box drawn R-style
    lh = 29.0
    lx = legend_left[i] / wpx
    ly = (1 - lh / hpx) if legend_top[i] else 0.0
    ax.add_patch(Rectangle((lx, ly), 1 - lx, lh / hpx, transform=ax.transAxes,
                           facecolor="white", edgecolor=BOX_COL, lw=0.8,
                           zorder=5, clip_on=False))
    for k, col in enumerate([RAW_COL, FIL_COL]):
        yy = ly + (lh - 10 - 10 * k) / hpx
        ax.add_line(Line2D([lx + 16 / wpx, lx + 50 / wpx], [yy, yy],
                           transform=ax.transAxes, color=col, lw=0.7, zorder=6))
        ax.text(lx + 65 / wpx, yy, legend_labels[i][k], transform=ax.transAxes,
                ha="left", va="center", fontsize=5.2, fontfamily=FONT,
                color="#333333", zorder=6)

    fig.text(caption_x[c] / W, 1 - caption_y[r] / H, captions[i],
             ha="center", va="center", fontsize=20.8, fontfamily="cmr10")

fig.savefig("out.png", dpi=100)
